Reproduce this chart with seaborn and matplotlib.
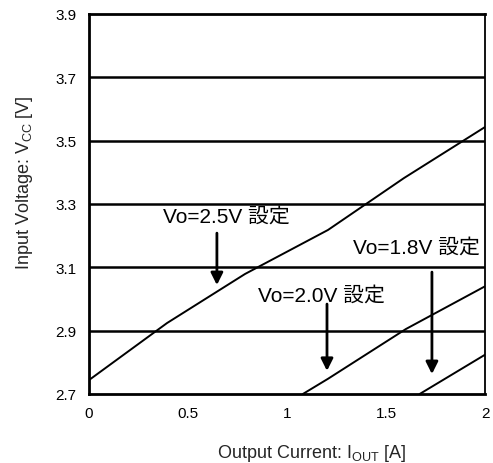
import pandas as pd
import seaborn as sns
import matplotlib
import matplotlib.pyplot as plt

sns.set_style('white')
plt.rcParams['font.family'] = ['Liberation Sans', 'Noto Sans CJK JP']
plt.rcParams['mathtext.fontset'] = 'custom'
plt.rcParams['mathtext.rm'] = 'Liberation Sans'

# curves (Output current [A] vs input voltage [V])
iout_25 = [0.0, 0.394, 0.788, 1.207, 1.591, 2.00]
vcc_25 = [2.744, 2.924, 3.079, 3.218, 3.382, 3.543]
iout_20 = [1.08, 1.207, 1.60, 2.00]
vcc_20 = [2.700, 2.748, 2.905, 3.040]
iout_18 = [1.67, 2.00]
vcc_18 = [2.700, 2.824]

labels = ['Vo=2.5V 設定', 'Vo=2.0V 設定', 'Vo=1.8V 設定']
# label anchor (left, baseline) and arrow (x, top, tip)
label_xy = [(0.374, 3.243), (0.854, 2.994), (1.333, 3.148)]
arrows = [(0.646, 3.208, 3.044), (1.202, 2.984, 2.773), (1.732, 3.085, 2.763)]

xticks = [0, 0.5, 1, 1.5, 2]
xticklabels = ['0', '0.5', '1', '1.5', '2']
yticks = [2.7, 2.9, 3.1, 3.3, 3.5, 3.7, 3.9]

df = pd.concat([
    pd.DataFrame({'Iout': iout_25, 'Vcc': vcc_25, 'set': '2.5'}),
    pd.DataFrame({'Iout': iout_20, 'Vcc': vcc_20, 'set': '2.0'}),
    pd.DataFrame({'Iout': iout_18, 'Vcc': vcc_18, 'set': '1.8'}),
])

fig = plt.figure(figsize=(4.93, 4.64), dpi=100)
ax = fig.add_axes([89/493, 69/464, 396/493, 380/464])

# grid lines
for y in yticks[1:-1]:
    ax.axhline(y, color='black', lw=1.8, zorder=1)

sns.lineplot(data=df, x='Iout', y='Vcc', hue='set', units='set',
             palette=['black'] * 3, estimator=None, sort=False,
             lw=1.4, legend=False, ax=ax, zorder=3)

for txt, (lx, ly), (ax_x, ytop, ytip) in zip(labels, label_xy, arrows):
    ax.text(lx, ly, txt, fontsize=15, ha='left', va='baseline',
            color='black', zorder=4)
    ax.annotate('', xy=(ax_x, ytip), xytext=(ax_x, ytop),
                arrowprops=dict(arrowstyle='-|>', color='black', lw=2,
                                mutation_scale=18, shrinkA=0, shrinkB=0),
                zorder=4)

ax.set_xlim(0, 2)
ax.set_ylim(2.7, 3.9)
ax.set_xticks(xticks)
ax.set_xticklabels(xticklabels)
ax.set_yticks(yticks)
ax.set_yticklabels([f'{v:.1f}' for v in yticks])
ax.tick_params(axis='x', direction='in', length=4, width=1.2,
               labelsize=11, pad=9, colors='black')
ax.tick_params(axis='y', length=0, labelsize=11, pad=9, colors='black')

for s in ['left', 'bottom', 'top']:
    ax.spines[s].set_linewidth(2)
    ax.spines[s].set_color('black')
ax.spines['right'].set_linewidth(1.3)
ax.spines['right'].set_color('black')

ax.set_xlabel(r'Output Current: I$_{\mathregular{OUT}}$ [A]', fontsize=13)
ax.set_ylabel(r'Input Voltage: V$_{\mathregular{CC}}$ [V]', fontsize=13)
ax.xaxis.set_label_coords(0.563, -0.155)
ax.xaxis.label.set_va('center')
ax.yaxis.set_label_coords(-0.164, 0.56)
ax.yaxis.label.set_va('center')

fig.savefig('out.png', dpi=100)
